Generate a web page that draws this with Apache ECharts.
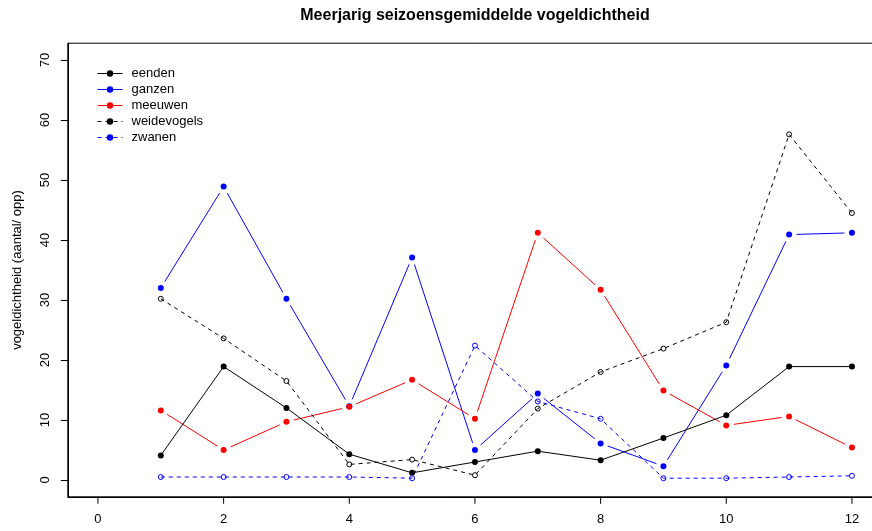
<!DOCTYPE html>
<html>
<head>
<meta charset="utf-8">
<title>Meerjarig seizoensgemiddelde vogeldichtheid</title>
<script src="https://cdn.jsdelivr.net/npm/echarts@6/dist/echarts.min.js"></script>
<style>
  html, body { margin: 0; padding: 0; background: #fff; overflow: hidden; }
  /* the plot box runs slightly past the right edge of the window */
  #chart { width: 890px; height: 531px; }
</style>
</head>
<body>
<div id="chart"></div>
<script>
// Months / seasons along the x axis
const maanden = [1, 2, 3, 4, 5, 6, 7, 8, 9, 10, 11, 12];

// Mean bird density per group (aantal / opp)
const eenden      = [4.1, 18.9, 12.0, 4.3, 1.2, 3.0, 4.8, 3.3, 7.0, 10.8, 18.9, 18.9];
const ganzen      = [32.0, 48.9, 30.2, 12.3, 37.1, 5.0, 14.4, 6.1, 2.3, 19.1, 40.9, 41.2];
const meeuwen     = [11.6, 5.0, 9.7, 12.2, 16.7, 10.2, 41.2, 31.7, 14.9, 9.1, 10.6, 5.4];
const weidevogels = [30.2, 23.6, 16.5, 2.6, 3.4, 0.8, 11.9, 18.0, 21.9, 26.3, 57.6, 44.5];
const zwanen      = [0.5, 0.5, 0.5, 0.5, 0.3, 22.4, 13.1, 10.2, 0.3, 0.3, 0.5, 0.7];

// Axis tick labels
const xTicks = [0, 2, 4, 6, 8, 10, 12];
const yTicks = [0, 10, 20, 30, 40, 50, 60, 70];

const FONT = "'Liberation Sans', Arial, sans-serif";
const TICK_LEN = 7;

const groups = [
  { name: 'eenden',      values: eenden,      color: '#000000', dashed: false, open: false, gap: 0 },
  { name: 'ganzen',      values: ganzen,      color: '#0000ff', dashed: false, open: false, gap: 7.5 },
  { name: 'meeuwen',     values: meeuwen,     color: '#ff0000', dashed: false, open: false, gap: 7.5 },
  { name: 'weidevogels', values: weidevogels, color: '#000000', dashed: true,  open: true,  gap: 0 },
  { name: 'zwanen',      values: zwanen,      color: '#0000ff', dashed: true,  open: true,  gap: 0 }
];

const DASH = [4, 4];

function pairs(values) {
  return maanden.map((m, i) => [m, values[i]]);
}

// Segments between consecutive points, drawn with a gap around each point
function segmentSeries(g) {
  const segs = [];
  for (let i = 0; i < maanden.length - 1; i++) {
    segs.push([maanden[i], g.values[i], maanden[i + 1], g.values[i + 1]]);
  }
  return {
    type: 'custom',
    id: g.name + '-segmenten',
    silent: true,
    encode: { x: [0, 2], y: [1, 3] },
    data: segs,
    renderItem: function (params, api) {
      const a = api.coord([api.value(0), api.value(1)]);
      const b = api.coord([api.value(2), api.value(3)]);
      const dx = b[0] - a[0], dy = b[1] - a[1];
      const len = Math.hypot(dx, dy);
      if (len <= 2 * g.gap) return null;
      const ux = dx / len, uy = dy / len;
      return {
        type: 'line',
        shape: {
          x1: a[0] + ux * g.gap, y1: a[1] + uy * g.gap,
          x2: b[0] - ux * g.gap, y2: b[1] - uy * g.gap
        },
        style: { stroke: g.color, lineWidth: 1, lineDash: g.dashed ? DASH : null }
      };
    }
  };
}

function pointSeries(g) {
  const hidden = g.gap > 0;
  return {
    type: 'line',
    name: g.name,
    data: pairs(g.values),
    symbol: 'circle',
    symbolSize: g.open ? 5 : 6,
    showAllSymbol: true,
    silent: true,
    itemStyle: g.open
      ? { color: 'rgba(255,255,255,0)', borderColor: g.color, borderWidth: 1 }
      : { color: g.color, borderWidth: 0 },
    lineStyle: {
      color: g.color,
      width: 1,
      type: g.dashed ? DASH : 'solid',
      opacity: hidden ? 0 : 1
    },
    emphasis: { disabled: true }
  };
}

// Tick marks below the x axis at the labelled positions
const xTickSeries = {
  type: 'custom',
  id: 'x-ticks',
  silent: true,
  clip: false,
  encode: { x: 0, y: 1 },
  data: xTicks.map(v => [v, 0]),
  renderItem: function (params, api) {
    const x = api.coord([api.value(0), 0])[0];
    const bottom = params.coordSys.y + params.coordSys.height;
    return {
      type: 'line',
      shape: { x1: x, y1: bottom, x2: x, y2: bottom + TICK_LEN },
      style: { stroke: '#000', lineWidth: 1 }
    };
  }
};

const series = [];
groups.forEach(g => {
  if (g.gap > 0) series.push(segmentSeries(g));
  series.push(pointSeries(g));
});
series.push(xTickSeries);

const chart = echarts.init(document.getElementById('chart'), null, { renderer: 'canvas' });

chart.setOption({
  animation: false,
  backgroundColor: '#ffffff',
  textStyle: { fontFamily: FONT },
  title: {
    text: 'Meerjarig seizoensgemiddelde vogeldichtheid',
    left: 475,
    textAlign: 'center',
    top: 8,
    padding: 0,
    textStyle: { fontFamily: FONT, fontSize: 16, fontWeight: 'bold', color: '#000' }
  },
  legend: {
    orient: 'vertical',
    left: 97,
    top: 67,
    padding: 0,
    itemWidth: 25,
    itemHeight: 8,
    itemGap: 3,
    selectedMode: false,
    textStyle: { fontFamily: FONT, fontSize: 13, color: '#000', lineHeight: 12, padding: [0, 0, 0, 4] },
    data: groups.map(g => ({
      name: g.name,
      itemStyle: { color: g.color, borderWidth: 0, opacity: 1 },
      lineStyle: { color: g.color, width: 1, type: g.dashed ? DASH : 'solid', opacity: 1 }
    }))
  },
  grid: {
    left: 67.8,
    top: 43.2,
    width: 814.3,
    height: 453.6,
    show: true,
    borderColor: '#000',
    borderWidth: 1,
    backgroundColor: 'transparent'
  },
  xAxis: {
    type: 'value',
    min: -0.48,
    max: 12.48,
    splitLine: { show: false },
    axisLine: { show: true, onZero: false, lineStyle: { color: '#000', width: 1 } },
    axisTick: { show: false },
    axisLabel: {
      customValues: xTicks,
      interval: 0,
      margin: 16,
      fontFamily: FONT, fontSize: 13, color: '#000'
    }
  },
  yAxis: {
    type: 'value',
    min: -2.8,
    max: 72.8,
    name: 'vogeldichtheid (aantal/ opp)',
    nameLocation: 'middle',
    nameRotate: 90,
    nameGap: 44,
    nameTextStyle: { fontFamily: FONT, fontSize: 13, color: '#000' },
    splitLine: { show: false },
    axisLine: { show: true, onZero: false, lineStyle: { color: '#000', width: 1 } },
    axisTick: {
      show: true, inside: false, length: TICK_LEN, interval: 0,
      customValues: yTicks,
      lineStyle: { color: '#000', width: 1 }
    },
    axisLabel: {
      customValues: yTicks,
      interval: 0,
      rotate: 90,
      margin: 16,
      fontFamily: FONT, fontSize: 13, color: '#000'
    }
  },
  series: series
});
</script>
</body>
</html>
